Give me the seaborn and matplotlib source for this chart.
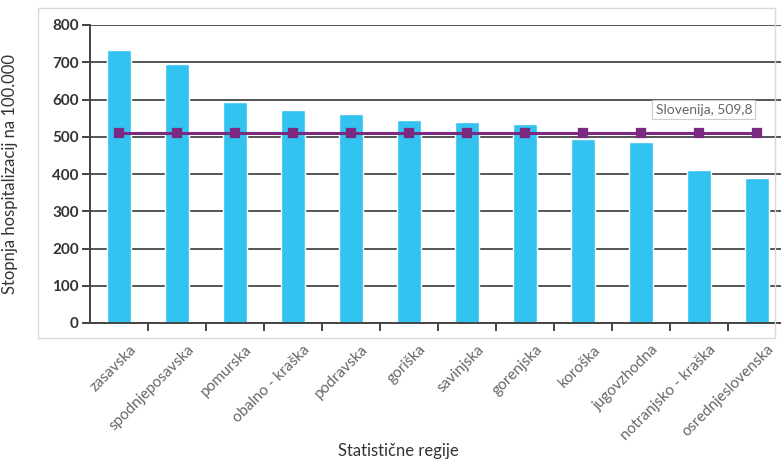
import matplotlib
matplotlib.use("Agg")
import matplotlib.pyplot as plt
from matplotlib.patches import Rectangle
import seaborn as sns
import pandas as pd

# Hospitalisation rate per 100,000 by statistical region
regions = ["zasavska", "spodnjeposavska", "pomurska", "obalno - kraška", "podravska",
           "goriška", "savinjska", "gorenjska", "koroška", "jugovzhodna",
           "notranjsko - kraška", "osrednjeslovenska"]
rates = [733, 695, 593, 572, 561, 546, 540, 535, 494, 486, 411, 390]
slovenija = 509.8
slovenija_label = "Slovenija, 509,8"

yticks = [0, 100, 200, 300, 400, 500, 600, 700, 800]

df = pd.DataFrame({"regija": regions, "stopnja": rates,
                   "slovenija": [slovenija] * len(regions)})

sns.set_theme(style="white")
plt.rcParams["font.family"] = ["Lato", "DejaVu Sans"]

W, H = 781, 462
fig = plt.figure(figsize=(W / 100, H / 100), dpi=100)
fig.patch.set_facecolor("white")

# outer chart frame
fig.patches.append(Rectangle((38 / W, 1 - 338 / H), (775 - 38) / W, (338 - 8) / H,
                             transform=fig.transFigure, fill=False,
                             edgecolor="#d9d9d9", linewidth=1.0))

ax = fig.add_axes([90 / W, 1 - 323 / H, (786 - 90) / W, (323 - 25) / H])

sns.barplot(data=df, x="regija", y="stopnja", color="#33c3f0", saturation=1,
            width=0.43, ax=ax, zorder=2)
sns.pointplot(data=df, x="regija", y="slovenija", color="#7b2a82", markers="s",
              markersize=6, linewidth=2.2, ax=ax, zorder=3)

ax.set_ylim(0, 800)
ax.set_xlim(-0.5, len(regions) - 0.5)
ax.set_yticks(yticks)
ax.set_yticklabels([str(t) for t in yticks], fontsize=11, fontweight="bold",
                   color="#333333")
ax.yaxis.grid(True, color="#555555", linewidth=1.4, zorder=0)
ax.set_axisbelow(True)

# category boundary ticks on x axis
ax.set_xticks([i + 0.5 for i in range(len(regions) - 1)], minor=True)
ax.tick_params(axis="x", which="minor", length=6, width=1.4, color="#444444",
               direction="out", bottom=True)
ax.tick_params(axis="x", which="major", length=0, pad=14)
ax.tick_params(axis="y", length=6, width=1.4, color="#444444", direction="out",
               left=True, pad=2)
ax.set_xticks(range(len(regions)))
ax.set_xticklabels(regions, rotation=45, ha="right", rotation_mode="anchor",
                   fontsize=11, color="#666666")
for lbl in ax.get_xticklabels():
    lbl.set_x(lbl.get_position()[0])
# nudge labels slightly right of bar centres
import matplotlib.transforms as mtransforms
offset = mtransforms.ScaledTranslation(10 / 100, 0, fig.dpi_scale_trans)
for lbl in ax.get_xticklabels():
    lbl.set_transform(lbl.get_transform() + offset)

for side in ["top", "right"]:
    ax.spines[side].set_visible(False)
for side in ["left", "bottom"]:
    ax.spines[side].set_color("#444444")
    ax.spines[side].set_linewidth(1.4)

ax.set_xlabel("Statistične regije", fontsize=12, color="#333333")
ax.set_ylabel("Stopnja hospitalizacij na 100.000", fontsize=12, color="#333333")
ax.xaxis.set_label_coords((398 - 90) / (786 - 90), -(443 - 323) / (323 - 25))
ax.yaxis.set_label_coords(-(90 - 18) / (786 - 90), 0.5)

ax.text(9.25, 573, slovenija_label, fontsize=10, color="#666666", va="center",
        ha="left", zorder=4,
        bbox=dict(boxstyle="square,pad=0.25", facecolor="white",
                  edgecolor="#cccccc", linewidth=0.8))

fig.savefig("out.png", dpi=100)
